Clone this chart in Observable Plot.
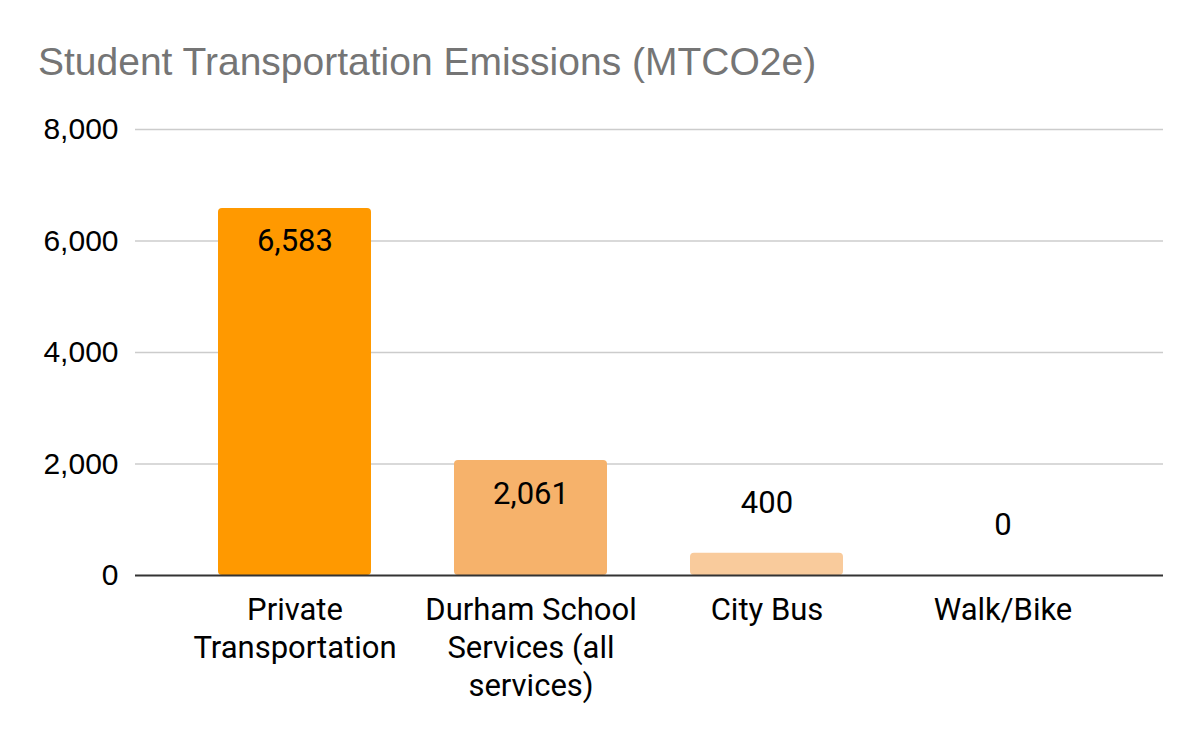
<!DOCTYPE html>
<html>
<head>
<meta charset="utf-8">
<script src="https://cdn.jsdelivr.net/npm/d3@7"></script>
<script src="https://cdn.jsdelivr.net/npm/@observablehq/plot@0.6"></script>
<style>
  html, body { margin: 0; padding: 0; background: #fff; }
  #wrap { position: relative; width: 1200px; height: 742px; overflow: hidden; }
  #title { position: absolute; left: 38px; top: 40px; font-family: "Liberation Sans", Arial, sans-serif; font-size: 39px; color: #757575; white-space: nowrap; }
  #chart { position: absolute; left: 0; top: 100px; }
</style>
</head>
<body>
<div id="wrap">
  <div id="title">Student Transportation Emissions (MTCO2e)</div>
  <div id="chart"></div>
</div>
<script>
const categories = ["Private Transportation", "Durham School Services (all services)", "City Bus", "Walk/Bike"];
const tickLabels = ["Private\nTransportation", "Durham School\nServices (all\nservices)", "City Bus", "Walk/Bike"];
const values = [6583, 2061, 400, 0];
const colors = ["#ff9900", "#f6b26b", "#f9cb9c", "#fce5cd"];
const yTicks = [0, 2000, 4000, 6000, 8000];

const data = categories.map((c, i) => ({category: c, value: values[i], color: colors[i]}));
const labelOf = new Map(categories.map((c, i) => [c, tickLabels[i]]));
const fmt = d3.format(",");

const plot = Plot.plot({
  width: 1200,
  height: 642,
  marginLeft: 135,
  marginRight: 37,
  marginTop: 29,
  marginBottom: 167,
  x: {domain: categories, padding: 0.35, axis: null},
  y: {domain: [0, 8000], axis: null},
  marks: [
    Plot.ruleY(yTicks.filter(d => d > 0), {stroke: "#cccccc", strokeWidth: 1.5}),
    Plot.barY(data, {x: "category", y: "value", fill: "color", rx: 4}),
    Plot.ruleY([0], {stroke: "#333333", strokeWidth: 2}),
    Plot.axisY({ticks: yTicks, tickSize: 0, tickPadding: 17, tickFormat: fmt,
      fontSize: 30, fill: "#000", fontFamily: "Liberation Sans, Arial, sans-serif", label: null}),
    Plot.axisX({tickSize: 0, tickPadding: 17, tickFormat: d => labelOf.get(d),
      fontSize: 31, fill: "#000", fontFamily: "Roboto, sans-serif", lineHeight: 1.23, label: null}),
    Plot.text(data.filter(d => d.value > 1000), {x: "category", y: "value", text: d => fmt(d.value),
      dy: 33, fontSize: 31, fill: "#000", fontFamily: "Roboto, sans-serif"}),
    Plot.text(data.filter(d => d.value <= 1000), {x: "category", y: "value", text: d => fmt(d.value),
      dy: -50, fontSize: 31, fill: "#000", fontFamily: "Roboto, sans-serif"})
  ]
});
document.getElementById("chart").appendChild(plot);
</script>
</body>
</html>
